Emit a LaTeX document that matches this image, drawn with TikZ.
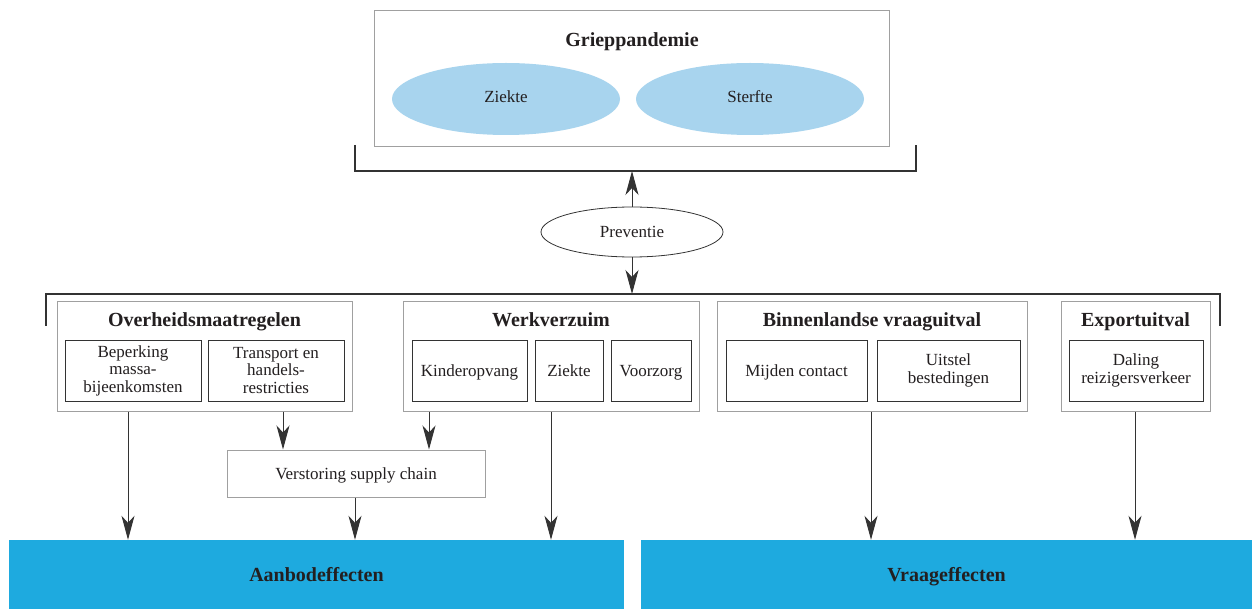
\documentclass[tikz,border=0pt]{standalone}
\usepackage{fontspec}
\setmainfont{Liberation Serif}
\usetikzlibrary{arrows.meta,shapes.geometric}
\definecolor{boxgray}{HTML}{A0A0A0}
\definecolor{linedark}{HTML}{333333}
\definecolor{ellblue}{HTML}{A8D4EE}
\definecolor{effblue}{HTML}{1EAADF}
\definecolor{txt}{HTML}{231F20}
\tikzset{
  outerbox/.style={draw=boxgray, line width=1pt, inner sep=0pt, fill=white},
  innerbox/.style={draw=linedark, line width=0.9pt, inner sep=0pt, align=center, text=txt,
     font=\fontsize{17}{17.5}\selectfont},
  onetext/.style={text height=13pt, text depth=2pt},
  head/.style={inner sep=0pt, text=txt, text height=16pt, text depth=3pt, font=\bfseries\fontsize{20}{22}\selectfont},
  blob/.style={ellipse, fill=ellblue, inner sep=0pt, text=txt, text height=12pt, text depth=4pt, font=\fontsize{17}{20}\selectfont},
  prevell/.style={ellipse, draw=linedark, line width=0.8pt, inner sep=0pt, text=txt, onetext, font=\fontsize{17}{20}\selectfont},
  effect/.style={fill=effblue, inner sep=0pt, text=txt, text height=16pt, text depth=3pt, font=\bfseries\fontsize{20}{22}\selectfont},
  bracket/.style={draw=linedark, line width=1.4pt},
  arr/.style={draw=linedark, line width=1pt, -{Stealth[length=24pt,width=13pt,inset=7pt]}},
}
\begin{document}
\begin{tikzpicture}[x=1pt,y=-1pt]
\useasboundingbox (0,0) rectangle (1252,609);

% top box
\node[outerbox, minimum width=515, minimum height=136] (top) at (631.5,79) {};
\node[head] (toptitle) at (632,40) {Grieppandemie};
\node[blob, minimum width=228, minimum height=72] (ziekte1) at (506,99) {Ziekte};
\node[blob, minimum width=228, minimum height=72] (sterfte) at (750,99) {Sterfte};

% upper bracket
\coordinate (ub1) at (355,145);
\coordinate (ub2) at (355,171);
\coordinate (ub3) at (916,171);
\coordinate (ub4) at (916,145);
\coordinate (ubm) at (632,171);
\draw[bracket] (ub1) -- (ub2) -- (ub3) -- (ub4);

% preventie
\node[prevell, minimum width=182, minimum height=50] (prev) at (632,232) {Preventie};

% lower bracket
\coordinate (lb1) at (46,326);
\coordinate (lb2) at (46,294);
\coordinate (lb3) at (1220,294);
\coordinate (lb4) at (1220,326);
\coordinate (lbm) at (632,294);
\draw[bracket] (lb1) -- (lb2) -- (lb3) -- (lb4);

\draw[arr] (prev.north) -- (ubm);
\draw[arr] (prev.south) -- (lbm);

% Overheidsmaatregelen
\node[outerbox, minimum width=295, minimum height=109] (ov) at (204.5,356.5) {};
\node[head] (ovt) at (204.5,320) {Overheidsmaatregelen};
\node[innerbox, minimum width=136, minimum height=61] (bep) at (133,370.5) {Beperking\\massa-\\bijeenkomsten};
\node[innerbox, minimum width=136, minimum height=61] (tra) at (276,370.5) {Transport en\\handels-\\restricties};

% Werkverzuim
\node[outerbox, minimum width=296, minimum height=109] (wv) at (551,356.5) {};
\node[head] (wvt) at (551,320) {Werkverzuim};
\node[innerbox, onetext, minimum width=115, minimum height=61] (kin) at (469.5,370.5) {Kinderopvang};
\node[innerbox, onetext, minimum width=68, minimum height=61] (zie) at (569,370.5) {Ziekte};
\node[innerbox, onetext, minimum width=80, minimum height=61] (voo) at (651,370.5) {Voorzorg};

% Binnenlandse vraaguitval
\node[outerbox, minimum width=310, minimum height=109] (bv) at (872,356.5) {};
\node[head] (bvt) at (872,320) {Binnenlandse vraaguitval};
\node[innerbox, onetext, minimum width=141, minimum height=61] (mij) at (796.5,370.5) {Mijden contact};
\node[innerbox, minimum width=143, minimum height=61] (uit) at (948.5,370.5) {Uitstel\\bestedingen};

% Exportuitval
\node[outerbox, minimum width=149, minimum height=109] (ex) at (1135.5,356.5) {};
\node[head] (ext) at (1135.5,320) {Exportuitval};
\node[innerbox, minimum width=134, minimum height=61] (dal) at (1136,370.5) {Daling\\reizigersverkeer};

% Verstoring supply chain
\node[outerbox, onetext, minimum width=258, minimum height=47, text=txt, font=\fontsize{17}{20}\selectfont] (vsc) at (356,473.5) {Verstoring supply chain};

% effects
\node[effect, minimum width=615, minimum height=69] (aan) at (316.5,574.5) {Aanbodeffecten};
\node[effect, minimum width=611, minimum height=69] (vra) at (946.5,574.5) {Vraageffecten};

% arrows
\coordinate (x1) at (128,0);
\coordinate (x2) at (283,0);
\coordinate (x3) at (429,0);
\coordinate (x4) at (355,0);
\coordinate (x5) at (551,0);
\coordinate (x6) at (871,0);
\coordinate (x7) at (1135,0);
\draw[arr] (ov.south -| x1) -- (aan.north -| x1);
\draw[arr] (ov.south -| x2) -- (vsc.north -| x2);
\draw[arr] (wv.south -| x3) -- (vsc.north -| x3);
\draw[arr] (vsc.south -| x4) -- (aan.north -| x4);
\draw[arr] (wv.south -| x5) -- (aan.north -| x5);
\draw[arr] (bv.south -| x6) -- (vra.north -| x6);
\draw[arr] (ex.south -| x7) -- (vra.north -| x7);
\end{tikzpicture}
\end{document}
